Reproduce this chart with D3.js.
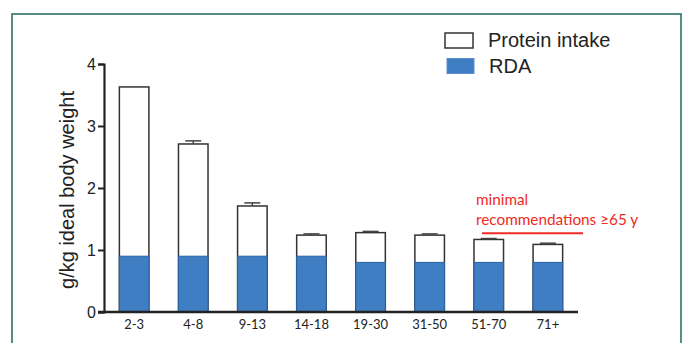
<!DOCTYPE html>
<html>
<head>
<meta charset="utf-8">
<script src="https://cdn.jsdelivr.net/npm/d3@7/dist/d3.min.js"></script>
<style>
  html, body { margin: 0; padding: 0; background: #fff; }
  svg { display: block; }
</style>
</head>
<body>
<svg id="chart" width="686" height="343"></svg>
<script>
// Age groups (years)
const ageGroups = ["2-3", "4-8", "9-13", "14-18", "19-30", "31-50", "51-70", "71+"];
// Mean protein intake, g/kg ideal body weight
const proteinIntake = [3.63, 2.71, 1.71, 1.24, 1.28, 1.24, 1.17, 1.09];
// Error (SEM) on intake
const intakeError = [0, 0.05, 0.05, 0.02, 0.02, 0.02, 0.015, 0.02];
// Recommended dietary allowance
const rda = [0.9, 0.9, 0.9, 0.9, 0.8, 0.8, 0.8, 0.8];
// Minimal recommendation for adults aged 65 and over
const minimalRecommendation = 1.27;
const yTicks = [0, 1, 2, 3, 4];
const legendItems = ["Protein intake", "RDA"];

const svg = d3.select("#chart");

// Panel frame
svg.append("rect")
  .attr("x", 12).attr("y", 14)
  .attr("width", 669).attr("height", 360)
  .attr("fill", "none")
  .attr("stroke", "#2c7268")
  .attr("stroke-width", 1.6);

const x = d3.scaleBand()
  .domain(ageGroups)
  .range([104, 578])
  .paddingInner(0.5)
  .paddingOuter(0.26);

const y = d3.scaleLinear()
  .domain([0, 4])
  .range([312, 64]);

const blueFill = "#3f7ec2";
const blueEdge = "#2a62a8";
const ink = "#222";

// Intake bars (white, outlined)
svg.append("g").selectAll("rect")
  .data(ageGroups)
  .join("rect")
  .attr("x", d => x(d))
  .attr("y", (d, i) => y(proteinIntake[i]))
  .attr("width", x.bandwidth())
  .attr("height", (d, i) => y(0) - y(proteinIntake[i]))
  .attr("fill", "#fff")
  .attr("stroke", "#333")
  .attr("stroke-width", 1.5);

// Error bars
const err = svg.append("g").attr("stroke", "#444").attr("stroke-width", 1.5);
ageGroups.forEach((d, i) => {
  if (intakeError[i] <= 0) return;
  const cx = x(d) + x.bandwidth() / 2;
  err.append("line")
    .attr("x1", cx).attr("x2", cx)
    .attr("y1", y(proteinIntake[i])).attr("y2", y(proteinIntake[i] + intakeError[i]));
  err.append("line")
    .attr("x1", cx - 8).attr("x2", cx + 8)
    .attr("y1", y(proteinIntake[i] + intakeError[i]))
    .attr("y2", y(proteinIntake[i] + intakeError[i]));
});

// RDA bars (blue)
svg.append("g").selectAll("rect")
  .data(ageGroups)
  .join("rect")
  .attr("x", d => x(d))
  .attr("y", (d, i) => y(rda[i]))
  .attr("width", x.bandwidth())
  .attr("height", (d, i) => y(0) - y(rda[i]))
  .attr("fill", blueFill)
  .attr("stroke", blueEdge)
  .attr("stroke-width", 1);

// Y axis
const yAxis = svg.append("g")
  .attr("transform", `translate(${x.range()[0]},0)`)
  .call(d3.axisLeft(y).tickValues(yTicks).tickSize(6).tickPadding(2).tickFormat(d3.format("d")));
yAxis.attr("font-size", null).attr("font-family", null);
yAxis.select(".domain").attr("stroke", ink).attr("stroke-width", 2.2);
yAxis.selectAll(".tick line").attr("stroke", ink).attr("stroke-width", 2);
yAxis.selectAll(".tick text")
  .attr("fill", ink)
  .attr("font-family", "'Liberation Sans', Arial, sans-serif")
  .attr("font-size", 16);

// X axis
const xAxis = svg.append("g")
  .attr("transform", `translate(0,${y(0)})`)
  .call(d3.axisBottom(x).tickSize(0).tickPadding(8));
xAxis.attr("font-size", null).attr("font-family", null);
xAxis.select(".domain")
  .attr("d", `M${x.range()[0] - 6},0H${x.range()[1]}`)
  .attr("stroke", ink).attr("stroke-width", 2.4);
xAxis.selectAll(".tick text")
  .attr("fill", ink)
  .attr("font-family", "Lato, 'Open Sans', sans-serif")
  .attr("font-size", 13);

// Y axis title
svg.append("text")
  .attr("transform", `translate(74,${(y(0) + y(4)) / 2 + 2}) rotate(-90)`)
  .attr("text-anchor", "middle")
  .attr("fill", ink)
  .style("font-family", "'Liberation Sans', Arial, sans-serif")
  .style("font-size", "20px")
  .text("g/kg ideal body weight");

// Minimal recommendation annotation
const x51 = x("51-70");
svg.append("line")
  .attr("x1", x51 + x.bandwidth() * 0.27)
  .attr("x2", x.range()[1] + 5)
  .attr("y1", y(minimalRecommendation))
  .attr("y2", y(minimalRecommendation))
  .attr("stroke", "#ee2b24")
  .attr("stroke-width", 2.2);
const note = svg.append("text")
  .attr("fill", "#ee2b24")
  .style("font-family", "Lato, 'Open Sans', sans-serif")
  .style("font-size", "15.3px");
note.append("tspan").attr("x", x51 + 2).attr("y", 205).text("minimal");
note.append("tspan").attr("x", x51 + 2).attr("y", 225).text("recommendations \u226565 y");

// Legend
const legend = svg.append("g")
  .style("font-family", "'Liberation Sans', Arial, sans-serif")
  .style("font-size", "20px");
legendItems.forEach((name, i) => {
  const g = legend.append("g").attr("transform", `translate(445,${33 + i * 25.5})`);
  g.append("rect")
    .attr("x", i === 0 ? 0 : 2).attr("y", 0)
    .attr("width", i === 0 ? 28 : 27).attr("height", 15)
    .attr("fill", i === 0 ? "#fff" : blueFill)
    .attr("stroke", i === 0 ? "#333" : "#5a8fd0")
    .attr("stroke-width", i === 0 ? 1.5 : 1);
  g.append("text")
    .attr("x", 43 + i).attr("y", 14)
    .attr("fill", ink)
    .text(name);
});
</script>
</body>
</html>
